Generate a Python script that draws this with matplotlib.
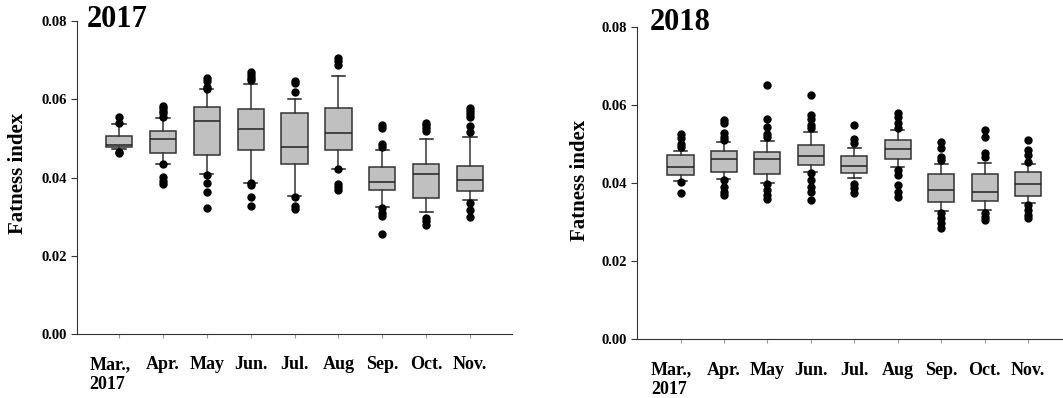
import matplotlib.pyplot as plt
from matplotlib.transforms import ScaledTranslation

plt.rcParams['font.family'] = ['Liberation Serif', 'DejaVu Serif']
plt.rcParams['font.weight'] = 'bold'

months = ['Mar.,\n2017', 'Apr.', 'May', 'Jun.', 'Jul.', 'Aug', 'Sep.', 'Oct.', 'Nov.']

# 2017 panel
med_2017 = [0.0483, 0.0498, 0.0544, 0.0524, 0.0479, 0.0514, 0.0388, 0.0409, 0.0394]
q1_2017 = [0.0479, 0.0462, 0.0458, 0.0470, 0.0434, 0.0470, 0.0367, 0.0347, 0.0366]
q3_2017 = [0.0507, 0.0519, 0.0581, 0.0575, 0.0564, 0.0577, 0.0427, 0.0436, 0.0429]
lo_2017 = [0.0472, 0.0436, 0.0409, 0.0387, 0.0353, 0.0422, 0.0325, 0.0312, 0.0343]
hi_2017 = [0.0536, 0.0552, 0.0626, 0.0639, 0.0601, 0.0660, 0.0470, 0.0498, 0.0505]
fl_2017 = [
    [0.0555, 0.0540, 0.0466, 0.0463],
    [0.0583, 0.0577, 0.0570, 0.0564, 0.0555, 0.0434, 0.0402, 0.0391, 0.0383],
    [0.0654, 0.0647, 0.0632, 0.0626, 0.0407, 0.0385, 0.0364, 0.0323],
    [0.0669, 0.0662, 0.0655, 0.0649, 0.0385, 0.0380, 0.0351, 0.0328],
    [0.0647, 0.0641, 0.0619, 0.0351, 0.0328, 0.0320],
    [0.0705, 0.0698, 0.0689, 0.0422, 0.0383, 0.0375, 0.0368],
    [0.0534, 0.0526, 0.0485, 0.0479, 0.0321, 0.0310, 0.0302, 0.0255],
    [0.0540, 0.0534, 0.0527, 0.0519, 0.0296, 0.0289, 0.0280],
    [0.0577, 0.0570, 0.0562, 0.0554, 0.0532, 0.0517, 0.0334, 0.0317, 0.0298],
]

# 2018 panel
med_2018 = [0.0442, 0.0462, 0.0461, 0.0470, 0.0443, 0.0486, 0.0382, 0.0378, 0.0397]
q1_2018 = [0.0420, 0.0428, 0.0422, 0.0445, 0.0426, 0.0462, 0.0351, 0.0354, 0.0368]
q3_2018 = [0.0472, 0.0483, 0.0480, 0.0497, 0.0469, 0.0509, 0.0424, 0.0422, 0.0429]
lo_2018 = [0.0405, 0.0409, 0.0399, 0.0427, 0.0412, 0.0440, 0.0329, 0.0331, 0.0348]
hi_2018 = [0.0483, 0.0506, 0.0508, 0.0530, 0.0490, 0.0536, 0.0449, 0.0450, 0.0449]
fl_2018 = [
    [0.0525, 0.0514, 0.0501, 0.0493, 0.0403, 0.0375],
    [0.0561, 0.0553, 0.0527, 0.0519, 0.0510, 0.0408, 0.0391, 0.0378, 0.0369],
    [0.0652, 0.0563, 0.0544, 0.0525, 0.0517, 0.0397, 0.0382, 0.0369, 0.0358],
    [0.0625, 0.0574, 0.0564, 0.0548, 0.0540, 0.0425, 0.0408, 0.0391, 0.0378, 0.0357],
    [0.0548, 0.0512, 0.0503, 0.0397, 0.0386, 0.0375],
    [0.0578, 0.0570, 0.0553, 0.0540, 0.0433, 0.0420, 0.0395, 0.0378, 0.0365],
    [0.0506, 0.0489, 0.0467, 0.0459, 0.0322, 0.0310, 0.0297, 0.0284],
    [0.0536, 0.0519, 0.0476, 0.0467, 0.0322, 0.0314, 0.0305],
    [0.0510, 0.0484, 0.0472, 0.0455, 0.0344, 0.0331, 0.0318, 0.0310],
]

yticks = [0.00, 0.02, 0.04, 0.06, 0.08]


def draw(ax, med, q1, q3, lo, hi, fl):
    stats = []
    for i in range(len(med)):
        stats.append(dict(med=med[i], q1=q1[i], q3=q3[i],
                          whislo=lo[i], whishi=hi[i], fliers=fl[i]))
    ax.bxp(stats, positions=range(1, len(med) + 1), widths=0.6, capwidths=0.3,
           patch_artist=True,
           boxprops=dict(facecolor='#c0c0c0', edgecolor='#333333', linewidth=1.1),
           medianprops=dict(color='#222222', linewidth=1.1),
           whiskerprops=dict(color='#333333', linewidth=1.1),
           capprops=dict(color='#222222', linewidth=1.1),
           flierprops=dict(marker='o', markerfacecolor='black', markeredgecolor='black',
                           markersize=5, linestyle='none'))
    ax.set_ylim(0, 0.08)
    ax.set_yticks(yticks)
    ax.set_yticklabels(['%.2f' % t for t in yticks], fontsize=10.5, fontweight='bold')
    ax.set_xticks(range(1, len(med) + 1))
    ax.set_xticklabels(months, fontsize=13, fontweight='bold', multialignment='left')
    ax.spines['top'].set_visible(False)
    ax.spines['right'].set_visible(False)
    ax.spines['left'].set_color('#333333')
    ax.spines['bottom'].set_color('#333333')
    ax.tick_params(axis='x', direction='out', length=3, color='#999999', pad=13)
    ax.tick_params(axis='y', direction='out', length=4, color='#333333', pad=3)
    # first label sits a bit left of its tick in the original
    lab = ax.get_xticklabels()[0]
    lab.set_transform(lab.get_transform() + ScaledTranslation(-0.09, 0, ax.figure.dpi_scale_trans))


fig = plt.figure(figsize=(10.63, 3.98), dpi=100)

ax1 = fig.add_axes([0.0724, 0.1608, 0.409, 0.786])
draw(ax1, med_2017, q1_2017, q3_2017, lo_2017, hi_2017, fl_2017)
ax1.set_xlim(0.04, 9.95)

ax2 = fig.add_axes([0.5993, 0.1475, 0.4087, 0.7854])
draw(ax2, med_2018, q1_2018, q3_2018, lo_2018, hi_2018, fl_2018)
ax2.set_xlim(0, 10)

fig.text(18 / 1063, 0.565, 'Fatness index', rotation=90, ha='center', va='center',
         fontsize=15, fontweight='bold')
fig.text(580 / 1063, 0.548, 'Fatness index', rotation=90, ha='center', va='center',
         fontsize=15, fontweight='bold')
fig.text(87 / 1063, 1 - 27 / 398, '2017', fontsize=22, fontweight='bold', va='baseline')
fig.text(650 / 1063, 1 - 30 / 398, '2018', fontsize=22, fontweight='bold', va='baseline')

fig.savefig('out.png', dpi=100)
